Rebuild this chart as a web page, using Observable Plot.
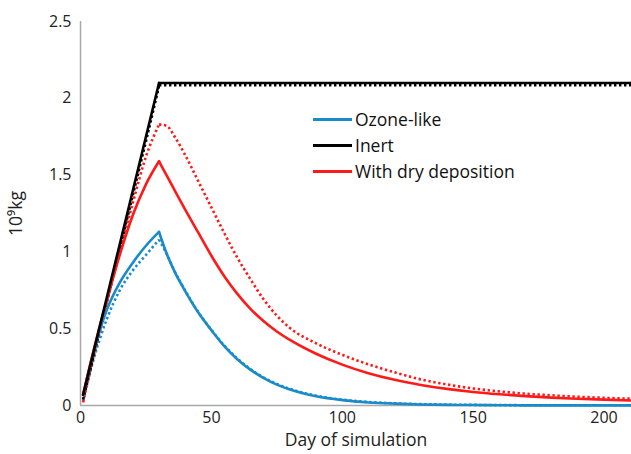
<!DOCTYPE html>
<html>
<head>
<meta charset="utf-8">
<script src="https://cdn.jsdelivr.net/npm/d3@7"></script>
<script src="https://cdn.jsdelivr.net/npm/@observablehq/plot@0.6"></script>
<style>
  html, body { margin: 0; padding: 0; background: #fff; }
  #wrap { position: relative; width: 631px; height: 454px; font-family: "Open Sans", sans-serif; }
  #legend { position: absolute; left: 313px; top: 106px; font-size: 17.5px; color: #111; line-height: 26px; }
  #legend .row { display: flex; align-items: center; height: 26px; }
  #legend .sw { width: 39px; height: 0; border-top: 3px solid; margin-right: 3px; }
  g[aria-label="x-axis label"] text, g[aria-label="y-axis label"] text { font-size: 17.5px; }
</style>
</head>
<body>
<div id="wrap"><div id="legend"></div></div>
<script>
// Days for rise and decay phases
const riseDays = [1, 5, 10, 15, 20, 25, 30];
const decayDays = [30, 33, 36, 40, 45, 50, 55, 60, 65, 70, 75, 80, 90, 100, 110, 120, 130, 140, 150, 160, 170, 180, 190, 200, 211];

// Inert (black)
const inertRise = [0.07, 0.35, 0.70, 1.05, 1.40, 1.75, 2.10];
const inertDecay = decayDays.map(() => 2.10);
const inertDotRise = [0.04, 0.32, 0.67, 1.02, 1.37, 1.72, 2.08];
const inertDotDecay = decayDays.map(() => 2.085);

// With dry deposition (red)
const dryRise = [0.07, 0.36, 0.68, 0.98, 1.24, 1.44, 1.59];
const dryDecay = [1.59, 1.495, 1.40, 1.275, 1.125, 0.975, 0.84, 0.725, 0.628, 0.548, 0.482, 0.427, 0.337, 0.266, 0.21, 0.167, 0.134, 0.108, 0.088, 0.073, 0.061, 0.051, 0.044, 0.038, 0.032];
const dryDotRise = [0.02, 0.33, 0.67, 1.00, 1.32, 1.62, 1.83];
const dryDotDecay = [1.83, 1.82, 1.75, 1.63, 1.46, 1.29, 1.12, 0.96, 0.82, 0.69, 0.585, 0.505, 0.405, 0.33, 0.268, 0.216, 0.17, 0.137, 0.111, 0.092, 0.077, 0.066, 0.057, 0.05, 0.044];

// Ozone-like (blue)
const ozoneRise = [0.07, 0.35, 0.62, 0.80, 0.93, 1.04, 1.13];
const ozoneDecay = [1.13, 0.985, 0.87, 0.745, 0.605, 0.49, 0.385, 0.30, 0.232, 0.178, 0.136, 0.104, 0.06, 0.035, 0.02, 0.012, 0.007, 0.004, 0.003, 0.002, 0.001, 0.001, 0.001, 0.001, 0.001];
const ozoneDotRise = [0.03, 0.30, 0.56, 0.75, 0.88, 0.98, 1.08];
const ozoneDotDecay = [1.08, 0.985, 0.872, 0.748, 0.608, 0.493, 0.389, 0.304, 0.236, 0.182, 0.14, 0.108, 0.064, 0.038, 0.023, 0.014, 0.009, 0.006, 0.004, 0.003, 0.002, 0.002, 0.002, 0.002, 0.002];

const xTicks = [0, 50, 100, 150, 200];
const yTicks = [0, 0.5, 1, 1.5, 2, 2.5];

const seriesNames = ["Ozone-like", "Inert", "With dry deposition"];
const seriesColors = ["#1a8bc9", "#000000", "#ff1a1a"];

function build(name, style, rise, decay) {
  const out = [];
  riseDays.forEach((d, i) => out.push({day: d, value: rise[i], series: name, style, seg: name + style + "r"}));
  decayDays.forEach((d, i) => out.push({day: d, value: decay[i], series: name, style, seg: name + style + "d"}));
  return out;
}

const solid = [
  ...build("Ozone-like", "solid", ozoneRise, ozoneDecay),
  ...build("With dry deposition", "solid", dryRise, dryDecay),
  ...build("Inert", "solid", inertRise, inertDecay)
];
const dotted = [
  ...build("Ozone-like", "dot", ozoneDotRise, ozoneDotDecay),
  ...build("With dry deposition", "dot", dryDotRise, dryDotDecay),
  ...build("Inert", "dot", inertDotRise, inertDotDecay)
];

const color = {domain: seriesNames, range: seriesColors};

const chart = Plot.plot({
  width: 631,
  height: 454,
  marginLeft: 80,
  marginRight: 0,
  marginTop: 21,
  marginBottom: 49,
  style: {fontFamily: "Open Sans, sans-serif", fontSize: "16px", color: "#222", background: "#fff"},
  x: {domain: [0, 210.5], ticks: xTicks, tickSize: 0, tickPadding: 6, label: "Day of simulation", labelAnchor: "center", labelOffset: 40, labelArrow: "none"},
  y: {domain: [0, 2.5], ticks: yTicks, tickSize: 0, tickPadding: 9, tickFormat: d => String(d), label: "10⁹kg", labelAnchor: "center", labelOffset: 71, labelArrow: "none"},
  color,
  marks: [
    Plot.ruleX([0], {stroke: "#a8a8a8", strokeWidth: 1.5}),
    Plot.ruleY([0], {stroke: "#a8a8a8", strokeWidth: 1.5}),
    Plot.line(dotted, {x: "day", y: "value", z: "seg", stroke: "series", strokeWidth: 2.6, strokeDasharray: "2.4,2.6", strokeLinecap: "butt", curve: "monotone-x"}),
    Plot.line(solid, {x: "day", y: "value", z: "seg", stroke: "series", strokeWidth: 2.6, curve: "monotone-x"})
  ]
});

const wrap = document.getElementById("wrap");
wrap.insertBefore(chart, wrap.firstChild);

const legend = document.getElementById("legend");
seriesNames.forEach((n, i) => {
  const row = document.createElement("div");
  row.className = "row";
  const sw = document.createElement("span");
  sw.className = "sw";
  sw.style.borderColor = seriesColors[i];
  const t = document.createElement("span");
  t.textContent = n;
  row.appendChild(sw);
  row.appendChild(t);
  legend.appendChild(row);
});
</script>
</body>
</html>
